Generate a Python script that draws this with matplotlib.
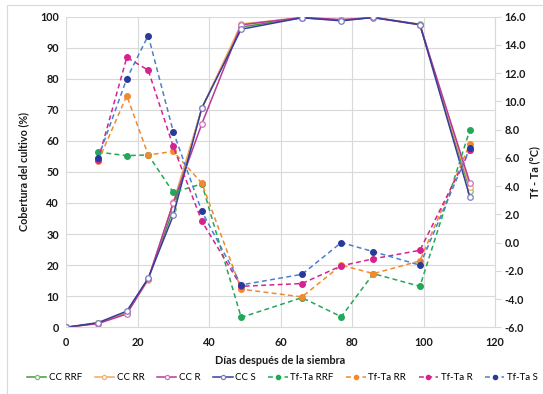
import matplotlib
matplotlib.use("Agg")
import matplotlib.pyplot as plt
from matplotlib.patches import Rectangle

plt.rcParams['font.family'] = ['Lato', 'DejaVu Sans']

# Sampling days (days after sowing)
days = [0, 9, 17, 23, 30, 38, 49, 66, 77, 86, 99, 113]
tf_days = days[1:]

# Crop cover (%) per treatment
cc_rrf = [0, 1.3, 4.6, 15.5, 38.0, 70.6, 96.6, 99.6, 98.8, 99.7, 97.5, 44.0]
cc_rr = [0, 1.4, 4.5, 15.2, 40.2, 70.4, 97.6, 99.6, 98.9, 99.7, 97.4, 45.0]
cc_r = [0, 1.2, 4.3, 15.6, 40.0, 65.5, 97.3, 99.7, 99.0, 99.6, 97.3, 46.4]
cc_s = [0, 1.5, 5.2, 15.8, 36.0, 70.6, 95.9, 99.6, 98.6, 99.7, 97.4, 41.8]

# Canopy minus air temperature (°C) per treatment
tf_rrf = [6.4, 6.15, 6.2, 3.55, 4.15, -5.3, -3.9, -5.25, -2.2, -3.1, 8.0]
tf_rr = [5.75, 10.4, 6.2, 6.45, 4.2, -3.3, -3.85, -1.6, -2.2, -1.3, 7.0]
tf_r = [5.85, 13.1, 12.2, 6.8, 1.5, -3.1, -2.9, -1.65, -1.15, -0.55, 6.55]
tf_s = [6.0, 11.6, 14.65, 7.85, 2.2, -3.0, -2.25, 0.0, -0.65, -1.6, 6.7]

x_ticks = [0, 20, 40, 60, 80, 100, 120]
left_ticks = list(range(0, 101, 10))
right_ticks = list(range(-6, 17, 2))

fig = plt.figure(figsize=(5.43, 3.94), dpi=100)
fig.patches.append(Rectangle((7 / 543, -0.1), 1.2, 1 - 5 / 394 + 0.1,
                             transform=fig.transFigure, fill=False,
                             edgecolor='#d9d9d9', linewidth=0.8))

ax = fig.add_axes([66 / 543, 1 - 327.3 / 394, (495 - 66) / 543, (327.3 - 16.5) / 394])
ax2 = ax.twinx()

grid_c = '#d9d9d9'
text_c = '#1a1a1a'
lw = 1.1
ms = 4.0

cc_styles = [
    (cc_rrf, 'CC RRF', '#3f9b3f', '#72c072'),
    (cc_rr, 'CC RR', '#f0a860', '#f0b070'),
    (cc_r, 'CC R', '#b8399a', '#d070b4'),
    (cc_s, 'CC S', '#383c9c', '#7c7cc0'),
]
tf_styles = [
    (tf_rrf, 'Tf-Ta RRF', '#22a858', '#22a858'),
    (tf_rr, 'Tf-Ta RR', '#f08a30', '#f08a30'),
    (tf_r, 'Tf-Ta R', '#d4238f', '#d4238f'),
    (tf_s, 'Tf-Ta S', '#4a80cf', '#2a3a9a'),
]

handles = []
for vals, name, lc, mc in cc_styles:
    h, = ax.plot(days, vals, color=lc, linewidth=lw, marker='o', markersize=ms,
                 markerfacecolor='white', markeredgecolor=mc, markeredgewidth=0.9,
                 label=name)
    handles.append(h)
for vals, name, lc, mc in tf_styles:
    h, = ax2.plot(tf_days, vals, color=lc, linewidth=lw, linestyle=(0, (3.2, 2.2)),
                  marker='o', markersize=ms, markerfacecolor=mc, markeredgecolor=mc,
                  label=name)
    handles.append(h)

ax.set_xlim(0, 120)
ax.set_ylim(0, 100)
ax2.set_ylim(-6, 16)
ax.set_xticks(x_ticks)
ax.set_yticks(left_ticks)
ax2.set_yticks(right_ticks)
ax2.set_yticklabels([f"{v:.1f}" for v in right_ticks])

ax.grid(True, color=grid_c, linewidth=0.8)
ax.set_axisbelow(True)
ax2.grid(False)

for s in ['top', 'left', 'right']:
    ax.spines[s].set_visible(False)
ax.spines['bottom'].set_color(grid_c)
for s in ['top', 'left', 'bottom']:
    ax2.spines[s].set_visible(False)
ax2.spines['right'].set_color(grid_c)
ax2.spines['right'].set_linewidth(0.8)

ax.tick_params(axis='both', length=0, pad=5)
ax.tick_params(axis='x', pad=7)
ax2.tick_params(axis='y', length=4, width=0.8, color=grid_c, pad=3)
for lab in ax.get_xticklabels() + ax.get_yticklabels() + ax2.get_yticklabels():
    lab.set_fontsize(7.8)
    lab.set_fontweight('bold')
    lab.set_color(text_c)

ax.set_xlabel('Días después de la siembra', fontsize=7.8, fontweight='bold',
              color=text_c, labelpad=5)
ax.set_ylabel('Cobertura del cultivo (%)', fontsize=7.8, fontweight='bold',
              color=text_c, labelpad=8)
ax2.set_ylabel('Tf - Ta (°C)', fontsize=7.8, fontweight='bold',
               color=text_c, labelpad=2)

fig.legend(handles=handles, loc='center', bbox_to_anchor=(0.52, 1 - 378 / 394),
           ncol=8, frameon=False, fontsize=7.0, handlelength=2.0,
           handletextpad=0.25, columnspacing=1.3, borderaxespad=0,
           markerscale=0.75)

fig.savefig('out.png', dpi=100)
